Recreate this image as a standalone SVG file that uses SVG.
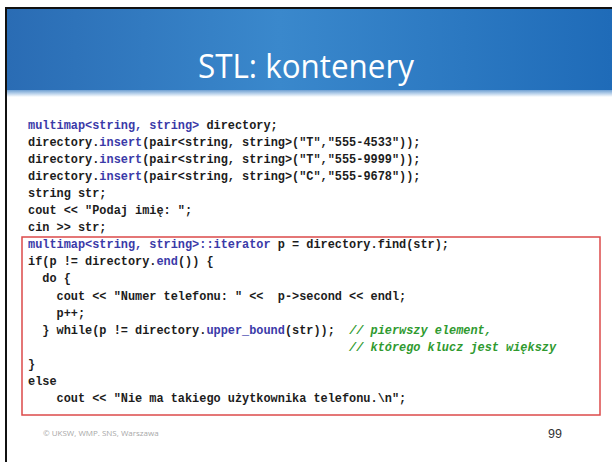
<svg xmlns="http://www.w3.org/2000/svg" width="612" height="462" viewBox="0 0 612 462">
<style>
.code{font-family:"Liberation Mono","Courier New",monospace;font-size:11.9px;font-weight:bold;fill:#1c1c1c;white-space:pre}
.kw{fill:#3a3aa8}
.cm{fill:#2f9a2f;font-style:italic}
.title{font-family:"Open Sans","Liberation Sans",sans-serif;font-size:33px;fill:#ffffff}
.foot{font-family:"Open Sans","Liberation Sans",sans-serif;font-size:8px;fill:#a8a8a8}
.num{font-family:"Liberation Sans",Arial,sans-serif;font-size:12.5px;fill:#333333}
</style>
<defs>
<linearGradient id="hdr" x1="0" y1="0" x2="1" y2="0">
<stop offset="0" stop-color="#2a6cb4"/>
<stop offset="0.45" stop-color="#3a88cc"/>
<stop offset="1" stop-color="#1f6bb8"/>
</linearGradient>
<linearGradient id="strip" x1="0" y1="0" x2="0" y2="1">
<stop offset="0" stop-color="#6fa0d2"/>
<stop offset="0.5" stop-color="#b7d0ea"/>
<stop offset="1" stop-color="#ffffff"/>
</linearGradient>
</defs>
<rect x="0" y="0" width="612" height="462" fill="#ffffff"/>
<g id="header">
<rect x="7" y="9" width="605" height="83" fill="url(#hdr)"/>
<rect x="7" y="90" width="605" height="7" fill="url(#strip)"/>
<text class="title" x="306" y="78" text-anchor="middle" textLength="216" lengthAdjust="spacingAndGlyphs">STL: kontenery</text>
</g>
<g id="frame">
<rect x="5" y="7" width="607" height="2" fill="#111111"/>
<rect x="5" y="7" width="2" height="455" fill="#111111"/>
</g>
<g id="highlight">
<rect x="22" y="237" width="578" height="178" fill="none" stroke="#dc4a4a" stroke-width="1.5"/>
</g>
<g id="code" xml:space="preserve">
<text class="code" x="28" y="128.5"><tspan class="kw">multimap&lt;string, string&gt;</tspan> directory;</text>
<text class="code" x="28" y="145.6">directory.<tspan class="kw">insert</tspan>(pair&lt;string, string&gt;("T","555-4533"));</text>
<text class="code" x="28" y="162.7">directory.<tspan class="kw">insert</tspan>(pair&lt;string, string&gt;("T","555-9999"));</text>
<text class="code" x="28" y="179.8">directory.<tspan class="kw">insert</tspan>(pair&lt;string, string&gt;("C","555-9678"));</text>
<text class="code" x="28" y="196.9">string str;</text>
<text class="code" x="28" y="214.0">cout &lt;&lt; "Podaj imię: ";</text>
<text class="code" x="28" y="231.1">cin &gt;&gt; str;</text>
<text class="code" x="28" y="248.2"><tspan class="kw">multimap&lt;string, string&gt;::iterator</tspan> p = directory.find(str);</text>
<text class="code" x="28" y="265.3">if(p != directory.<tspan class="kw">end</tspan>()) {</text>
<text class="code" x="28" y="282.4">  do {</text>
<text class="code" x="28" y="299.5">    cout &lt;&lt; "Numer telefonu: " &lt;&lt;  p-&gt;second &lt;&lt; endl;</text>
<text class="code" x="28" y="316.6">    p++;</text>
<text class="code" x="28" y="333.7">  } while(p != directory.<tspan class="kw">upper_bound</tspan>(str));  <tspan class="cm">// pierwszy element,</tspan></text>
<text class="code" x="28" y="350.8">                                             <tspan class="cm">// którego klucz jest większy</tspan></text>
<text class="code" x="28" y="367.9">}</text>
<text class="code" x="28" y="385.0">else</text>
<text class="code" x="28" y="402.1">    cout &lt;&lt; "Nie ma takiego użytkownika telefonu.\n";</text>
</g>
<g id="footer">
<text class="foot" x="43" y="436">© UKSW, WMP. SNS, Warszawa</text>
<text class="num" x="548" y="438">99</text>
</g>
</svg>
